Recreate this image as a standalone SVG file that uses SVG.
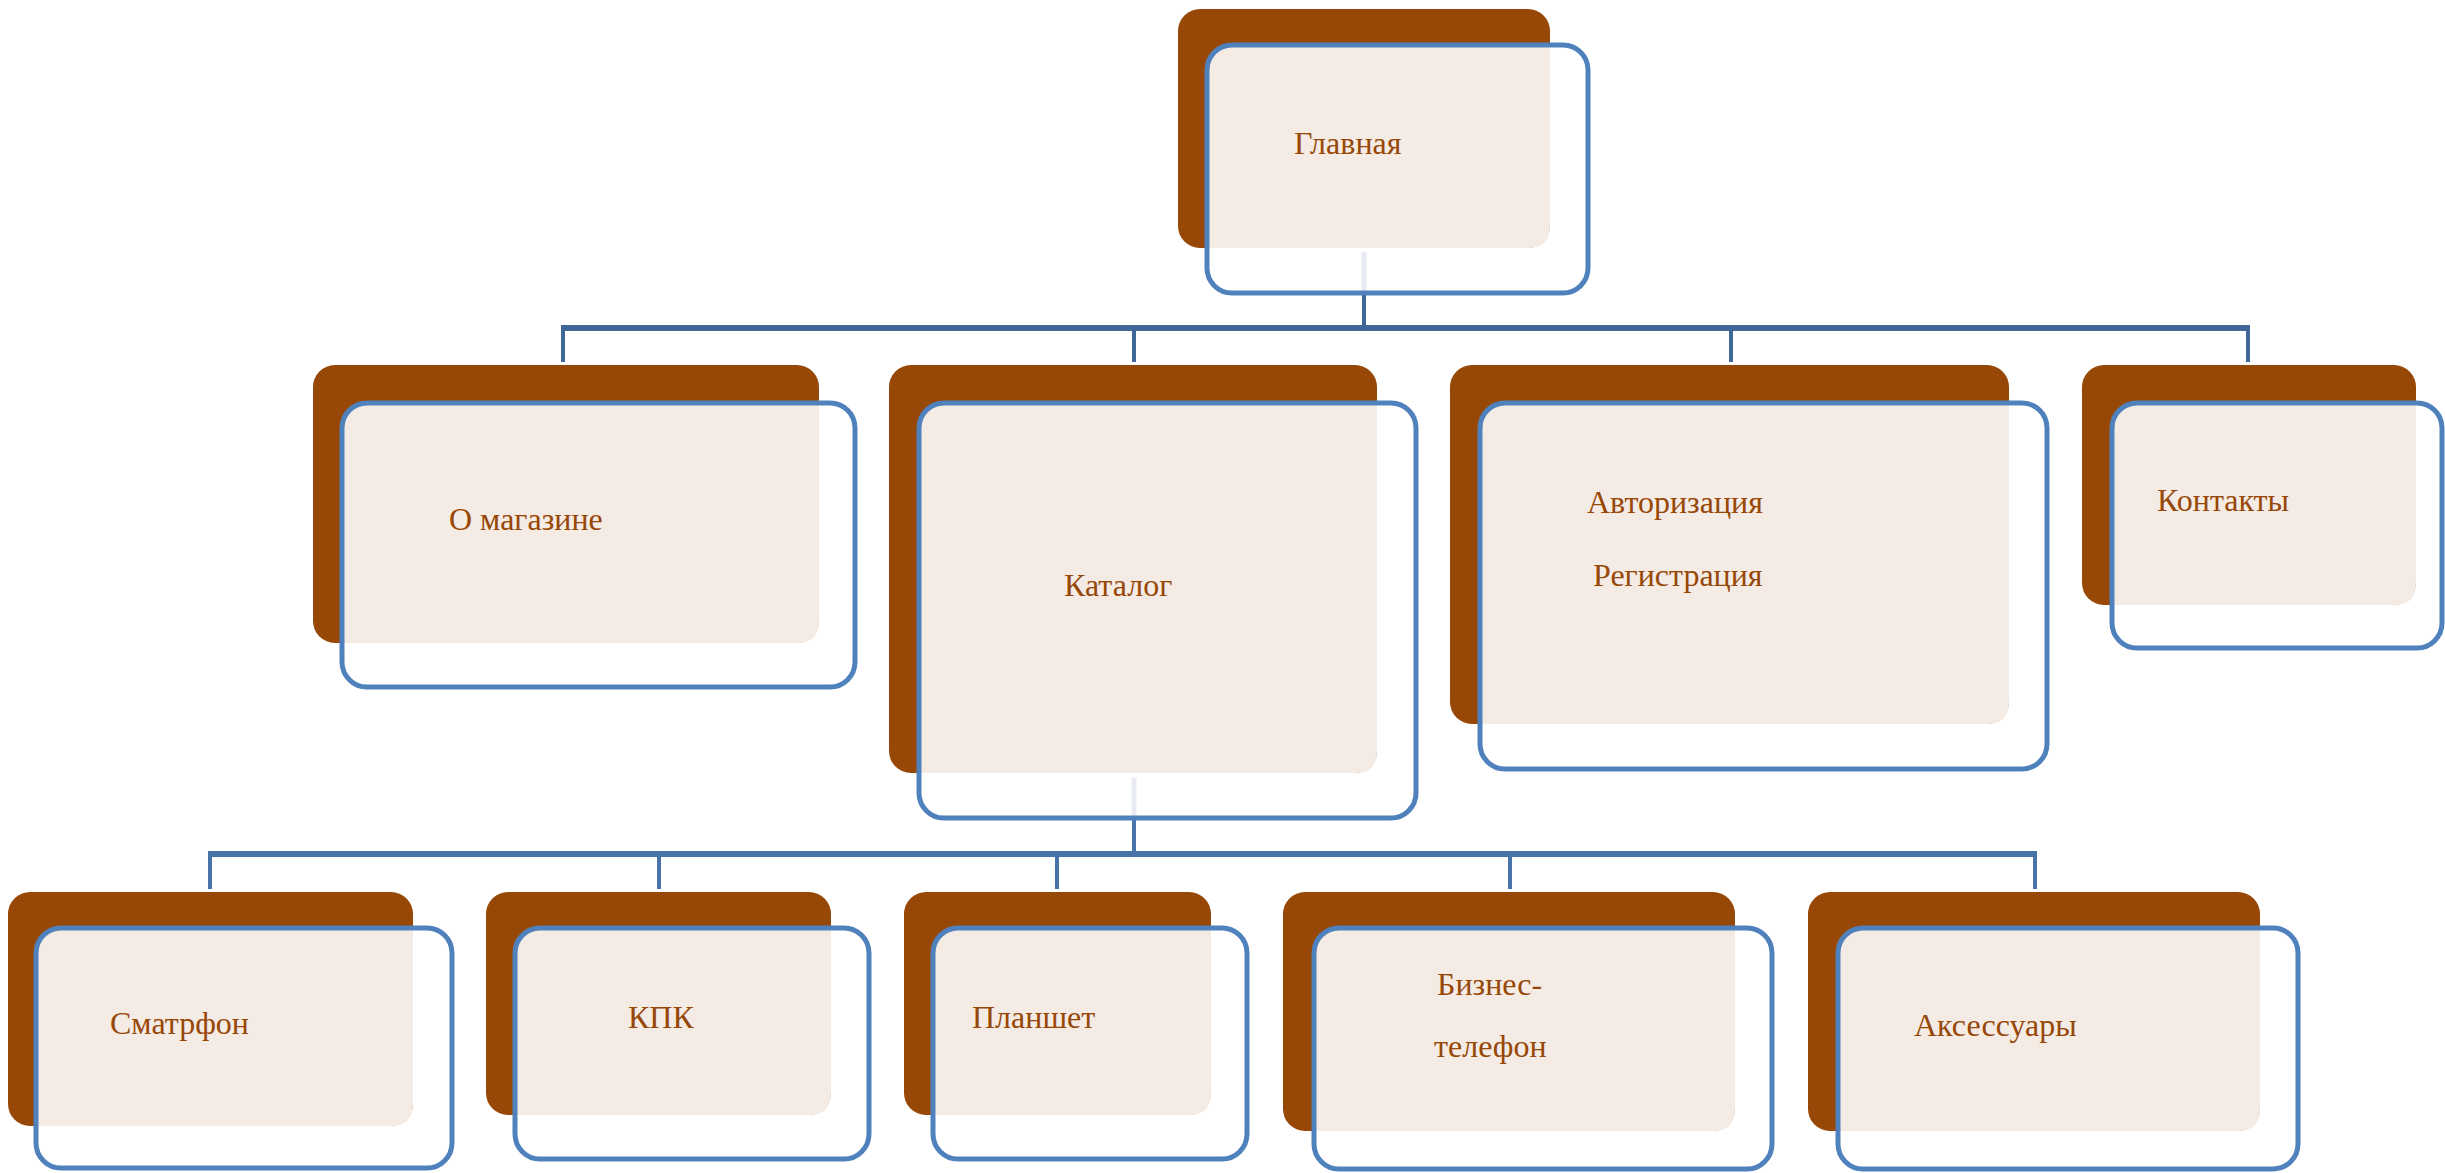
<svg xmlns="http://www.w3.org/2000/svg" width="2445" height="1173" viewBox="0 0 2445 1173">
<style>
.bg{fill:#974706}
.lt{fill:#f4ebe5}
.ol{fill:none;stroke:#4f81bd;stroke-width:5}
.tx{font-family:"Liberation Serif","Times New Roman",serif;font-size:32px;fill:#974706}
.c1{stroke:#3f6797;fill:none}
.c2{stroke:#4773a9;fill:none}
.fa{stroke:#e8ebf3;stroke-width:5}
</style>
<rect width="2445" height="1173" fill="#ffffff"/>
<g id="connectors">
<line class="c1" x1="1364" y1="293" x2="1364" y2="328" stroke-width="4"/>
<line class="c1" x1="561" y1="328" x2="2250" y2="328" stroke-width="6"/>
<line class="c1" x1="563" y1="328" x2="563" y2="362" stroke-width="4"/>
<line class="c1" x1="1134" y1="328" x2="1134" y2="362" stroke-width="4"/>
<line class="c1" x1="1731" y1="328" x2="1731" y2="362" stroke-width="4"/>
<line class="c1" x1="2248" y1="328" x2="2248" y2="362" stroke-width="4"/>
<line class="c2" x1="1134" y1="818" x2="1134" y2="854" stroke-width="4"/>
<line class="c2" x1="208" y1="854" x2="2037" y2="854" stroke-width="6"/>
<line class="c2" x1="210" y1="854" x2="210" y2="889" stroke-width="4"/>
<line class="c2" x1="659" y1="854" x2="659" y2="889" stroke-width="4"/>
<line class="c2" x1="1057" y1="854" x2="1057" y2="889" stroke-width="4"/>
<line class="c2" x1="1510" y1="854" x2="1510" y2="889" stroke-width="4"/>
<line class="c2" x1="2035" y1="854" x2="2035" y2="889" stroke-width="4"/>
</g>
<g id="node-glavnaya">
<rect class="bg" x="1178" y="9" width="372" height="239" rx="22"/>
<path class="lt" d="M1207,70 Q1207,45 1232,45 H1550 V226 Q1550,248 1528,248 H1207 Z"/>
<line class="fa" x1="1364" y1="252" x2="1364" y2="292"/>
<rect class="ol" x="1207" y="45" width="381" height="248" rx="25"/>
<text class="tx" x="1294" y="154">Главная</text>
</g>
<g id="node-o-magazine">
<rect class="bg" x="313" y="365" width="506" height="278" rx="22"/>
<path class="lt" d="M342,428 Q342,403 367,403 H819 V621 Q819,643 797,643 H342 Z"/>
<rect class="ol" x="342" y="403" width="513" height="284" rx="25"/>
<text class="tx" x="449" y="530">О магазине</text>
</g>
<g id="node-katalog">
<rect class="bg" x="889" y="365" width="488" height="408" rx="22"/>
<path class="lt" d="M919,428 Q919,403 944,403 H1377 V751 Q1377,773 1355,773 H919 Z"/>
<line class="fa" x1="1134" y1="778" x2="1134" y2="817"/>
<rect class="ol" x="919" y="403" width="497" height="415" rx="25"/>
<text class="tx" x="1064" y="596">Каталог</text>
</g>
<g id="node-avtorizaciya">
<rect class="bg" x="1450" y="365" width="559" height="359" rx="22"/>
<path class="lt" d="M1480,428 Q1480,403 1505,403 H2009 V702 Q2009,724 1987,724 H1480 Z"/>
<rect class="ol" x="1480" y="403" width="567" height="366" rx="25"/>
<text class="tx" x="1587" y="513">Авторизация</text>
<text class="tx" x="1593" y="586">Регистрация</text>
</g>
<g id="node-kontakty">
<rect class="bg" x="2082" y="365" width="334" height="240" rx="22"/>
<path class="lt" d="M2112,428 Q2112,403 2137,403 H2416 V583 Q2416,605 2394,605 H2112 Z"/>
<rect class="ol" x="2112" y="403" width="330" height="245" rx="25"/>
<text class="tx" x="2157" y="511">Контакты</text>
</g>
<g id="node-smartfon">
<rect class="bg" x="8" y="892" width="405" height="234" rx="22"/>
<path class="lt" d="M36,953 Q36,928 61,928 H413 V1104 Q413,1126 391,1126 H36 Z"/>
<rect class="ol" x="36" y="928" width="416" height="240" rx="25"/>
<text class="tx" x="110" y="1034">Сматрфон</text>
</g>
<g id="node-kpk">
<rect class="bg" x="486" y="892" width="345" height="223" rx="22"/>
<path class="lt" d="M515,953 Q515,928 540,928 H831 V1093 Q831,1115 809,1115 H515 Z"/>
<rect class="ol" x="515" y="928" width="354" height="231" rx="25"/>
<text class="tx" x="628" y="1028">КПК</text>
</g>
<g id="node-planshet">
<rect class="bg" x="904" y="892" width="307" height="223" rx="22"/>
<path class="lt" d="M933,953 Q933,928 958,928 H1211 V1093 Q1211,1115 1189,1115 H933 Z"/>
<rect class="ol" x="933" y="928" width="314" height="231" rx="25"/>
<text class="tx" x="972" y="1028">Планшет</text>
</g>
<g id="node-biznes-telefon">
<rect class="bg" x="1283" y="892" width="452" height="239" rx="22"/>
<path class="lt" d="M1314,953 Q1314,928 1339,928 H1735 V1109 Q1735,1131 1713,1131 H1314 Z"/>
<rect class="ol" x="1314" y="928" width="458" height="241" rx="25"/>
<text class="tx" x="1437" y="995">Бизнес-</text>
<text class="tx" x="1434" y="1057">телефон</text>
</g>
<g id="node-aksessuary">
<rect class="bg" x="1808" y="892" width="452" height="239" rx="22"/>
<path class="lt" d="M1838,953 Q1838,928 1863,928 H2260 V1109 Q2260,1131 2238,1131 H1838 Z"/>
<rect class="ol" x="1838" y="928" width="460" height="241" rx="25"/>
<text class="tx" x="1914" y="1036">Аксессуары</text>
</g>
</svg>
